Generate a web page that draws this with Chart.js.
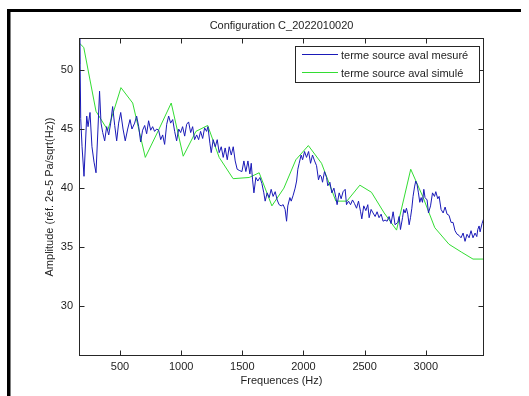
<!DOCTYPE html>
<html><head><meta charset="utf-8">
<script src="https://cdn.jsdelivr.net/npm/chart.js@4.4.0/dist/chart.umd.min.js"></script>
<style>html,body{margin:0;padding:0;background:#fff;overflow:hidden}canvas{display:block}</style>
</head><body>
<canvas id="c" width="529" height="396" style="width:529px;height:396px"></canvas>
<script>
const chartTitle = "Configuration C_2022010020";
const xLabel = "Frequences (Hz)";
const yLabel = "Amplitude (réf. 2e-5 Pa/sqrt(Hz))";
const seriesNames = ["terme source aval mesuré", "terme source aval simulé"];
const xTicks = [500, 1000, 1500, 2000, 2500, 3000];
const yTicks = [30, 35, 40, 45, 50];

const measuredFreq = [165,171,179,190,206,228,239,255,271,288,304,320,333,345,359,375,391,408,424,440,457,473,489,506,525,543,563,582,598,620,636,653,669,685,702,718,734,751,767,783,800,816,833,849,865,882,898,914,931,947,963,980,996,1012,1029,1045,1061,1078,1094,1110,1127,1143,1159,1176,1192,1208,1219,1235,1246,1262,1279,1295,1311,1328,1344,1360,1377,1393,1410,1426,1442,1458,1475,1497,1513,1529,1546,1562,1573,1584,1595,1611,1627,1644,1660,1676,1687,1703,1720,1736,1752,1769,1785,1801,1818,1834,1850,1862,1872,1889,1900,1916,1932,1944,1954,1965,1981,1993,2009,2025,2042,2058,2074,2091,2107,2123,2134,2145,2156,2172,2189,2199,2216,2232,2249,2265,2275,2292,2308,2324,2341,2352,2368,2385,2401,2417,2434,2450,2467,2477,2493,2510,2526,2537,2553,2569,2586,2602,2618,2635,2651,2667,2684,2700,2716,2733,2749,2771,2782,2793,2810,2820,2831,2842,2853,2864,2875,2886,2896,2908,2918,2929,2940,2951,2962,2973,2984,2994,3011,3022,3039,3055,3071,3082,3098,3109,3125,3142,3158,3174,3190,3207,3223,3239,3256,3272,3288,3305,3321,3337,3354,3370,3386,3403,3417,3425,3436,3444,3460,3476];
const measuredAmp = [50.5,53.5,45.9,43.5,41.0,46.1,45.2,46.4,43.5,42.2,41.3,45.0,48.2,45.5,44.7,44.0,45.2,44.5,45.5,46.9,45.3,44.0,45.5,46.4,45.0,44.0,45.0,45.8,45.0,45.5,46.1,45.2,43.9,44.9,45.3,44.6,45.7,44.9,45.2,44.8,45.0,44.9,44.1,44.5,43.7,45.4,46.1,45.5,45.8,44.8,44.0,45.0,44.7,45.2,44.4,45.4,45.6,44.7,45.2,44.1,44.5,44.1,44.8,44.2,45.1,44.8,45.2,43.8,43.0,44.1,43.5,44.1,43.0,43.5,42.6,43.4,42.4,43.5,42.8,43.5,42.3,41.6,41.5,41.4,42.3,41.4,42.3,41.2,42.1,40.7,39.6,40.9,40.6,40.9,40.4,39.6,38.9,39.6,39.2,39.9,39.3,39.7,39.0,38.6,38.5,38.6,38.2,37.2,38.5,39.2,38.9,39.4,40.0,40.6,41.6,42.1,42.8,42.4,43.1,42.6,43.1,42.1,42.8,42.3,41.9,40.7,41.1,41.0,40.5,41.4,40.9,40.2,40.5,39.6,40.0,39.2,38.6,39.6,39.1,39.7,39.9,38.6,38.9,38.6,39.0,38.7,38.3,38.9,38.0,37.4,38.5,38.1,38.6,37.5,38.2,37.9,37.6,38.0,37.5,37.8,37.2,37.3,37.2,37.6,37.0,38.0,36.9,37.1,37.6,36.5,37.5,38.2,37.9,38.3,37.8,36.9,37.5,38.3,39.3,40.1,40.6,40.3,39.6,38.8,39.2,38.8,39.9,39.2,39.0,37.9,38.5,39.6,39.3,39.7,39.1,39.3,38.2,37.9,38.4,37.8,37.7,37.1,37.1,36.4,36.1,36.0,35.8,36.2,35.5,36.1,35.8,36.4,35.8,36.2,35.9,36.5,36.8,36.3,37.0,37.5];

const simulatedFreq = [165,204,304,400,508,604,707,815,919,1017,1121,1217,1311,1425,1556,1638,1742,1840,1938,2040,2148,2265,2355,2461,2556,2660,2761,2877,2975,3074,3190,3290,3386,3476];
const simulatedAmp = [52.3,51.9,46.5,44.9,48.5,47.2,42.6,44.9,47.2,42.7,44.8,45.3,42.6,40.8,40.9,41.3,38.5,40.0,42.4,43.6,42.1,38.9,38.9,40.25,39.65,37.9,36.45,41.6,39.3,36.65,35.25,34.6,34.0,34.0];

const xMin = 165, xMax = 3476, yMin = 25.8, yMax = 52.7;
const FONT = '"Liberation Sans", Arial, Helvetica, sans-serif';
const TXT = '#1e1e1e';

const toPts = (xs, ys) => xs.map((v, i) => ({x: v, y: ys[i]}));

const matlabFrame = {
  id: 'matlabFrame',
  beforeDraw(chart) {
    const ctx = chart.ctx;
    ctx.save();
    ctx.fillStyle = '#fff';
    ctx.fillRect(0, 0, chart.width, chart.height);
    ctx.fillStyle = '#000';
    ctx.fillRect(7, 9, 3.5, chart.height - 9);
    ctx.fillRect(7, 9, 514, 3);
    ctx.restore();
  },
  afterDraw(chart) {
    const {ctx, chartArea: a, scales: {x, y}} = chart;
    ctx.save();
    const L = Math.round(a.left) + 0.5, R = Math.round(a.right) - 0.5;
    const T = Math.round(a.top) + 0.5, B = Math.round(a.bottom) - 0.5;
    ctx.strokeStyle = '#262626';
    ctx.lineWidth = 1;
    ctx.strokeRect(L, T, R - L, B - T);
    ctx.beginPath();
    xTicks.forEach(v => {
      const px = Math.round(x.getPixelForValue(v)) + 0.5;
      ctx.moveTo(px, B); ctx.lineTo(px, B - 5);
      ctx.moveTo(px, T); ctx.lineTo(px, T + 5);
    });
    yTicks.forEach(v => {
      const py = Math.round(y.getPixelForValue(v)) + 0.5;
      ctx.moveTo(L, py); ctx.lineTo(L + 5, py);
      ctx.moveTo(R, py); ctx.lineTo(R - 5, py);
    });
    ctx.stroke();

    // title
    ctx.fillStyle = TXT;
    ctx.font = '11px ' + FONT;
    ctx.textAlign = 'center';
    ctx.textBaseline = 'middle';
    ctx.fillText(chartTitle, (a.left + a.right) / 2, 26);

    // legend
    const lx = 295.5, ly = 46.5, lw = 184, lh = 36;
    ctx.fillStyle = '#fff';
    ctx.fillRect(lx, ly, lw, lh);
    ctx.strokeStyle = '#262626';
    ctx.strokeRect(lx, ly, lw, lh);
    const rows = [54.5, 72.5];
    chart.data.datasets.forEach((ds, i) => {
      ctx.strokeStyle = ds.borderColor;
      ctx.lineWidth = 1;
      ctx.beginPath();
      ctx.moveTo(302, rows[i]); ctx.lineTo(338, rows[i]);
      ctx.stroke();
      ctx.fillStyle = TXT;
      ctx.textAlign = 'left';
      ctx.textBaseline = 'middle';
      ctx.fillText(ds.label, 341, rows[i] + 1.5);
    });
    ctx.restore();
  }
};

new Chart(document.getElementById('c'), {
  type: 'scatter',
  data: {
    datasets: [
      {label: seriesNames[0], data: toPts(measuredFreq, measuredAmp), showLine: true, borderColor: '#1a1ab8', borderWidth: 1, pointRadius: 0, tension: 0, clip: 0},
      {label: seriesNames[1], data: toPts(simulatedFreq, simulatedAmp), showLine: true, borderColor: '#33dd33', borderWidth: 1, pointRadius: 0, tension: 0, clip: 0}
    ]
  },
  options: {
    responsive: false,
    animation: false,
    devicePixelRatio: 1,
    layout: {padding: {left: 0, top: 38, right: 45, bottom: 0}},
    plugins: {legend: {display: false}, title: {display: false}, tooltip: {enabled: false}},
    scales: {
      x: {
        type: 'linear', min: xMin, max: xMax,
        grid: {display: false, drawTicks: false},
        border: {display: false},
        afterBuildTicks: s => { s.ticks = xTicks.map(v => ({value: v})); },
        afterFit: s => { s.height = 40; },
        ticks: {padding: 4, color: TXT, font: {family: FONT, size: 11}, maxRotation: 0, autoSkip: false, callback: v => String(v)},
        title: {display: true, text: xLabel, color: TXT, font: {family: FONT, size: 11}, padding: {top: 0, bottom: 8}}
      },
      y: {
        type: 'linear', min: yMin, max: yMax,
        grid: {display: false, drawTicks: false},
        border: {display: false},
        afterBuildTicks: s => { s.ticks = yTicks.map(v => ({value: v})); },
        afterFit: s => { s.width = 79; },
        ticks: {padding: 6, color: TXT, font: {family: FONT, size: 11}, autoSkip: false, callback: v => String(v)},
        title: {display: true, text: yLabel, color: TXT, font: {family: FONT, size: 11}, padding: {top: 43, bottom: 0}}
      }
    }
  },
  plugins: [matlabFrame]
});
</script>
</body></html>
